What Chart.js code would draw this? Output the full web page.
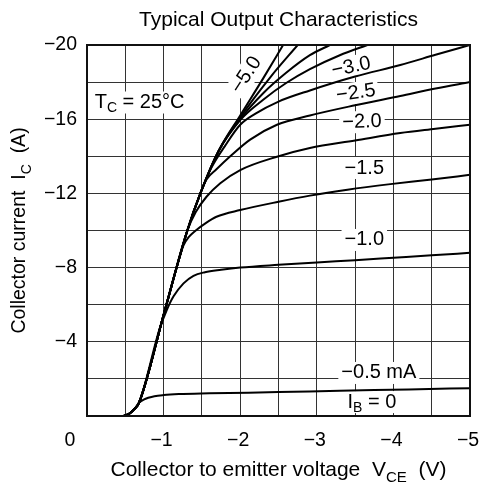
<!DOCTYPE html>
<html lang="en">
<head>
  <meta charset="UTF-8">
  <title>Typical Output Characteristics</title>
  <script src="https://cdn.jsdelivr.net/npm/chart.js"></script>
  <style>
    body { margin: 0; background: #fff; }
    canvas { display: block; }
  </style>
</head>
<body>
  <canvas id="chart" width="485" height="483"></canvas>

  <script>
    // common rising part shared by the curves (VCE in V, IC in A)
    const trunkV = [-0.48, -0.56, -0.62, -0.68, -1.0, -1.31, -1.48, -1.72];
    const trunkI = [0, -0.15, -0.38, -0.72, -5.45, -10.0, -12.0, -14.3];

    // base current of each curve (mA)
    const ibValues = [0, -0.5, -1.0, -1.5, -2.0, -2.5, -3.0, -3.5, -4.0, -4.5, -5.0];
    // how many trunk points each curve follows before it bends away
    const trunkUsed = [0, 4, 4, 5, 6, 7, 7, 8, 8, 8, 8];

    const tailV_0  = [0, -5];
    const tailI_0  = [0, 0];
    const tailV_05 = [-0.74, -0.8, -0.88, -1.0, -1.2, -1.6, -2.5, -3.3, -4.2, -5];
    const tailI_05 = [-0.88, -0.98, -1.07, -1.13, -1.18, -1.22, -1.29, -1.36, -1.43, -1.5];
    const tailV_10 = [-0.95, -1.04, -1.13, -1.26, -1.39, -1.54, -1.75, -2.0, -2.5, -3.0, -3.5, -4.0, -4.5, -5.0];
    const tailI_10 = [-4.73, -5.7, -6.45, -7.15, -7.56, -7.75, -7.88, -8.0, -8.15, -8.28, -8.4, -8.53, -8.66, -8.8];
    const tailV_15 = [-1.2, -1.26, -1.33, -1.42, -1.55, -1.69, -2.0, -2.5, -2.91, -3.4, -3.96, -4.5, -5.0];
    const tailI_15 = [-8.44, -9.2, -9.65, -10.0, -10.4, -10.74, -11.1, -11.55, -11.88, -12.2, -12.5, -12.75, -13.0];
    const tailV_20 = [-1.42, -1.56, -1.74, -2.0, -2.48, -2.91, -3.5, -4.09, -4.55, -5];
    const tailI_20 = [-11.0, -11.82, -12.55, -13.26, -13.98, -14.45, -14.85, -15.25, -15.48, -15.7];
    const tailV_25 = [-1.56, -1.69, -1.87, -2.13, -2.48, -2.91, -3.5, -4.09, -4.55, -5];
    const tailI_25 = [-12.75, -13.3, -14.0, -14.9, -15.7, -16.2, -16.75, -17.25, -17.65, -18.0];
    const tailV_30 = [-1.62, -1.8, -2.0, -2.2, -2.5, -2.91, -3.5, -4.09, -4.55, -5];
    const tailI_30 = [-13.35, -14.55, -15.7, -16.3, -16.95, -17.55, -18.3, -18.92, -19.47, -20];
    const tailV_35 = [-2.0, -2.3, -2.6, -2.91, -3.3, -3.66];
    const tailI_35 = [-15.95, -17.05, -17.95, -18.7, -19.45, -20];
    const tailV_40 = [-2.0, -2.3, -2.6, -2.91, -3.17];
    const tailI_40 = [-16.0, -17.4, -18.5, -19.45, -20];
    const tailV_45 = [-2.0, -2.4, -2.75];
    const tailI_45 = [-16.1, -18.3, -20];
    const tailV_50 = [-2.0, -2.3, -2.56];
    const tailI_50 = [-16.2, -18.2, -20];

    const tailsV = [tailV_0, tailV_05, tailV_10, tailV_15, tailV_20, tailV_25, tailV_30, tailV_35, tailV_40, tailV_45, tailV_50];
    const tailsI = [tailI_0, tailI_05, tailI_10, tailI_15, tailI_20, tailI_25, tailI_30, tailI_35, tailI_40, tailI_45, tailI_50];

    const FONT = '"Liberation Sans", Arial, sans-serif';
    const minus = v => (v < 0 ? '\u2212' : '') + Math.abs(v);

    function buildCurve(k) {
      const pts = [];
      for (let j = 0; j < trunkUsed[k]; j++) pts.push({ x: trunkV[j], y: trunkI[j] });
      tailsV[k].forEach((v, j) => pts.push({ x: v, y: tailsI[k][j] }));
      return pts;
    }

    const datasets = ibValues.map((ib, k) => ({
      label: 'IB = ' + ib + ' mA',
      data: buildCurve(k),
      showLine: true,
      borderColor: '#000',
      borderWidth: 2,
      pointRadius: 0,
      cubicInterpolationMode: 'monotone'
    }));

    // text with subscripts, parts = [[text, isSub], ...]
    function richText(ctx, parts, x, y, size, align) {
      const subSize = Math.round(size * 0.72);
      let total = 0;
      const widths = parts.map(p => {
        ctx.font = (p[1] ? subSize : size) + 'px ' + FONT;
        const w = ctx.measureText(p[0]).width;
        total += w;
        return w;
      });
      let cx = align === 'center' ? x - total / 2 : x;
      parts.forEach((p, i) => {
        ctx.font = (p[1] ? subSize : size) + 'px ' + FONT;
        ctx.fillText(p[0], cx, p[1] ? y + size * 0.3 : y);
        cx += widths[i];
      });
      return total;
    }

    // curve labels, placed in data units
    const notes = [
      { parts: [['T', 0], ['C', 1], [' = 25\u00b0C', 0]], v: -0.1, i: -16.9, rot: 0, align: 'left' },
      { parts: [['\u22125.0', 0]], v: -2.08, i: -18.38, rot: -57 },
      { parts: [['\u22123.0', 0]], v: -3.45, i: -18.81, rot: -12 },
      { parts: [['\u22122.5', 0]], v: -3.51, i: -17.41, rot: -8 },
      { parts: [['\u22122.0', 0]], v: -3.59, i: -15.85, rot: -2 },
      { parts: [['\u22121.5', 0]], v: -3.62, i: -13.37, rot: 0 },
      { parts: [['\u22121.0', 0]], v: -3.62, i: -9.49, rot: 0 },
      { parts: [['\u22120.5 mA', 0]], v: -3.81, i: -2.32, rot: 0 },
      { parts: [['I', 0], ['B', 1], [' = 0', 0]], v: -3.72, i: -0.75, rot: 0 }
    ];
    const noteSize = 20;

    const decor = {
      id: 'decor',
      beforeDatasetsDraw(chart) {
        const { ctx, scales: { x, y } } = chart;
        ctx.save();
        ctx.fillStyle = '#000';
        ctx.textBaseline = 'middle';
        notes.forEach(n => {
          const px = x.getPixelForValue(n.v), py = y.getPixelForValue(n.i);
          ctx.save();
          ctx.translate(px, py);
          ctx.rotate(n.rot * Math.PI / 180);
          let w = 0;
          n.parts.forEach(p => {
            ctx.font = (p[1] ? Math.round(noteSize * 0.72) : noteSize) + 'px ' + FONT;
            w += ctx.measureText(p[0]).width;
          });
          const left = n.align === 'left' ? 0 : -w / 2;
          ctx.fillStyle = '#fff';
          ctx.fillRect(left - 3, -11, w + 6, 22);
          ctx.fillStyle = '#000';
          richText(ctx, n.parts, left, 0, noteSize, 'left');
          ctx.restore();
        });
        ctx.restore();
      },
      afterDatasetsDraw(chart) {
        const { ctx, chartArea: a } = chart;
        ctx.save();
        ctx.strokeStyle = '#111';
        ctx.lineWidth = 2;
        ctx.strokeRect(a.left, a.top, a.right - a.left, a.bottom - a.top);
        ctx.restore();
      },
      afterDraw(chart) {
        const { ctx, chartArea: a, scales: { x } } = chart;
        ctx.save();
        ctx.fillStyle = '#000';
        // x tick labels, one per volt
        ctx.font = '19.5px ' + FONT;
        ctx.textAlign = 'center';
        ctx.textBaseline = 'middle';
        x.ticks.forEach(t => {
          if (Number.isInteger(t.value) && t.value !== 0) {
            ctx.fillText(minus(t.value), x.getPixelForValue(t.value) - 2, a.bottom + 25);
          }
        });
        ctx.fillText('0', 70, a.bottom + 25);
        ctx.textBaseline = 'alphabetic';
        const mid = (a.left + a.right) / 2;
        ctx.font = '21px ' + FONT;
        ctx.fillText('Typical Output Characteristics', mid, 26);
        ctx.textAlign = 'left';
        richText(ctx, [['Collector to emitter voltage  V', 0], ['CE', 1], ['  (V)', 0]], mid, 476, 21, 'center');
        ctx.translate(25, (a.top + a.bottom) / 2);
        ctx.rotate(-Math.PI / 2);
        richText(ctx, [['Collector current  I', 0], ['C', 1], ['  (A)', 0]], 0, 0, 19.5, 'center');
        ctx.restore();
      }
    };

    new Chart(document.getElementById('chart'), {
      type: 'scatter',
      data: { datasets },
      plugins: [decor],
      options: {
        responsive: false,
        animation: false,
        layout: { padding: { top: 45, right: 15, left: 0, bottom: 0 } },
        plugins: { legend: { display: false }, tooltip: { enabled: false } },
        scales: {
          x: {
            type: 'linear', min: -5, max: 0, reverse: true,
            afterFit: s => { s.height = 67; },
            border: { display: false },
            grid: { color: '#333', lineWidth: 1, drawTicks: false },
            ticks: { stepSize: 0.5, autoSkip: false, display: false }
          },
          y: {
            min: -20, max: 0, reverse: true,
            afterFit: s => { s.width = 87; },
            border: { display: false },
            grid: { color: '#333', lineWidth: 1, drawTicks: false },
            ticks: {
              stepSize: 2, autoSkip: false, padding: 10,
              color: '#000', font: { family: FONT, size: 19.5 },
              callback: v => (v % 4 === 0 && v !== 0) ? minus(v) : ''
            }
          }
        }
      }
    });
  </script>
</body>
</html>
